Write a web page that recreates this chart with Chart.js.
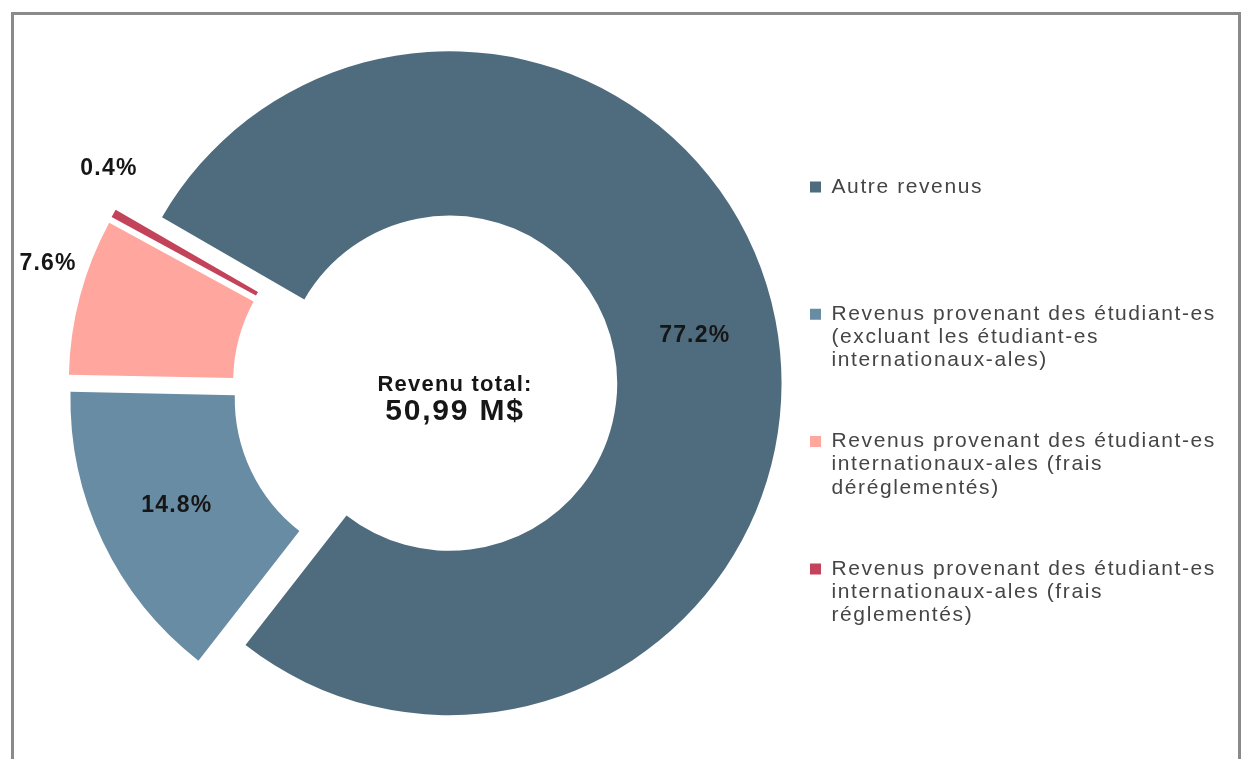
<!DOCTYPE html>
<html lang="fr">
<head>
<meta charset="utf-8">
<title>Revenu total</title>
<script src="https://cdn.jsdelivr.net/npm/chart.js@4.4.1/dist/chart.umd.min.js"></script>
<style>
  html, body { margin: 0; padding: 0; background: #fff; }
  body { width: 1246px; height: 759px; overflow: hidden; position: relative; }
  .cadre { position: absolute; left: 11px; top: 12px; width: 1230px; height: 800px;
           border: 3px solid #8a8a8a; box-sizing: border-box; }
  .zone { position: absolute; left: 0; top: 0; width: 1246px; height: 759px; }
</style>
</head>
<body>
<div class="cadre"></div>
<div class="zone"><canvas id="graph"></canvas></div>
<script>
const categories = [
    ["Autre revenus"],
    ["Revenus provenant des étudiant-es", "(excluant les étudiant-es", "internationaux-ales)"],
    ["Revenus provenant des étudiant-es", "internationaux-ales (frais", "déréglementés)"],
    ["Revenus provenant des étudiant-es", "internationaux-ales (frais", "réglementés)"]
];
const parts = [77.2, 14.8, 7.6, 0.4];
const colors = ['#4f6c7e', '#688ca3', '#ffa69f', '#c2435a'];
const totalLines = ["Revenu total:", "50,99 M$"];

const FONT = '"Liberation Sans", Arial, Helvetica, sans-serif';
const LEGEND_SPACING = '1.6px';
const SHIFT = 25; // écart de chaque tranche vers l'extérieur

// largeur de la légende -> marge droite, pour que les carrés tombent à x = 810
const mesure = document.createElement('canvas').getContext('2d');
mesure.font = '21px ' + FONT;
mesure.letterSpacing = LEGEND_SPACING;
const texteMax = Math.max(...categories.flat().map(t => mesure.measureText(t).width));
const legendWidth = 58 + 11 + 10.5 + texteMax + 10;
const padRight = Math.max(1246 - 752 - legendWidth, 0);

function shiftOf(arc) {
    const mid = (arc.startAngle + arc.endAngle) / 2;
    return { x: Math.cos(mid) * SHIFT, y: Math.sin(mid) * SHIFT, mid: mid };
}

// tranches détachées : chaque arc est déplacé le long de sa bissectrice
const eclate = {
    id: 'eclate',
    beforeDatasetDraw(chart, args) {
        const ctx = chart.ctx;
        args.meta.data.forEach(arc => {
            const s = shiftOf(arc);
            ctx.save();
            ctx.translate(s.x, s.y);
            arc.draw(ctx);
            ctx.restore();
        });
        return false;
    }
};

// pourcentages + texte au centre
const etiquettes = {
    id: 'etiquettes',
    beforeLayout(chart) {
        chart.ctx.letterSpacing = LEGEND_SPACING;
    },
    beforeDraw(chart) {
        chart.ctx.letterSpacing = LEGEND_SPACING;
    },
    afterDatasetsDraw(chart, args, opts) {
        const ctx = chart.ctx;
        const meta = chart.getDatasetMeta(0);
        ctx.save();
        ctx.letterSpacing = '1.2px';
        ctx.fillStyle = '#161616';
        ctx.textAlign = 'center';
        ctx.textBaseline = 'middle';
        ctx.font = 'bold 23px ' + FONT;
        meta.data.forEach((arc, i) => {
            const s = shiftOf(arc);
            const out = opts.dehors[i];
            let r = (arc.innerRadius + arc.outerRadius) / 2;
            let a = s.mid;
            if (out) {
                r = arc.outerRadius + out.ecart;
                a += out.decal * Math.PI / 180;
            }
            ctx.fillText(parts[i].toFixed(1) + '%',
                arc.x + s.x + Math.cos(a) * r,
                arc.y + s.y + Math.sin(a) * r);
        });

        const area = chart.chartArea;
        const cx = (area.left + area.right) / 2 + 30;
        const cy = (area.top + area.bottom) / 2;
        ctx.font = 'bold 22px ' + FONT;
        ctx.fillText(totalLines[0], cx, cy - 3);
        ctx.letterSpacing = '1.8px';
        ctx.font = 'bold 30px ' + FONT;
        ctx.fillText(totalLines[1], cx, cy + 24);
        ctx.restore();
    },
    afterDraw(chart) {
        chart.ctx.letterSpacing = '0px';
    }
};

const data = {
    labels: categories,
    datasets: [{
        data: parts,
        backgroundColor: colors,
        borderWidth: 0
    }]
};

const config = {
    type: 'doughnut',
    data: data,
    options: {
        responsive: true,
        maintainAspectRatio: false,
        animation: false,
        events: [],
        rotation: 300,
        radius: 332,
        cutout: '50.5%',
        layout: { padding: { left: 98, right: padRight, top: 90.3, bottom: 73.3 } },
        plugins: {
            tooltip: { enabled: false },
            legend: {
                position: 'right',
                align: 'end',
                labels: {
                    boxWidth: 11,
                    boxHeight: 11,
                    padding: 58,
                    color: '#454545',
                    font: { family: FONT, size: 21, lineHeight: 1.1 },
                    // toutes les entrées sur trois lignes pour garder le même pas
                    generateLabels: () => categories.map((lines, i) => ({
                        text: lines.concat(Array(3 - lines.length).fill('')),
                        fillStyle: colors[i],
                        strokeStyle: colors[i],
                        lineWidth: 0,
                        fontColor: '#454545',
                        hidden: false,
                        index: i
                    }))
                }
            },
            etiquettes: {
                dehors: [null, null, { ecart: 40, decal: 3.6 }, { ecart: 28, decal: 5.9 }]
            }
        }
    },
    plugins: [eclate, etiquettes]
};

new Chart(document.getElementById('graph'), config);
</script>
</body>
</html>
